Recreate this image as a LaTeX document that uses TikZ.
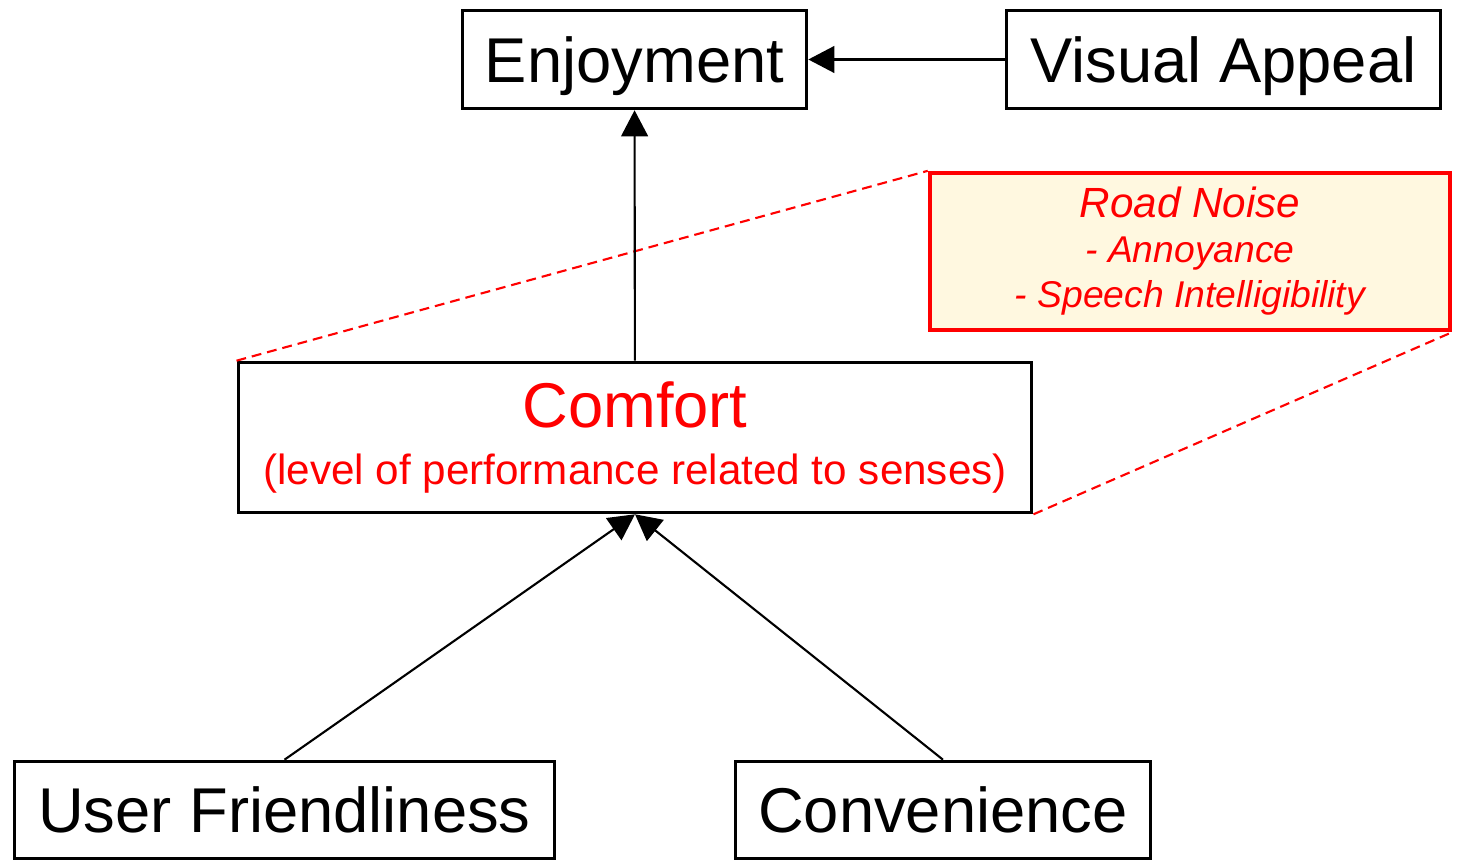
\documentclass[tikz,border=0pt]{standalone}
\usepackage{fontspec}
\setmainfont{Liberation Sans}
\usetikzlibrary{arrows.meta}
\definecolor{noisefill}{RGB}{255,248,224}
\begin{document}
\begin{tikzpicture}[x=0.01cm,y=-0.01cm,
  box/.style={draw,line width=1pt,inner sep=0pt},
  factor/.style={box,text height=13pt,text depth=0pt,font=\fontsize{18}{21}\selectfont},
  link/.style={line width=0.6pt,-{Triangle[length=7.4pt,width=7.6pt]}},
  zoomline/.style={red,line width=0.6pt,dash pattern=on 2.8pt off 1.7pt}]
\useasboundingbox (0,0) rectangle (1459,861);
\node[factor,minimum width=3.44cm,minimum height=0.98cm] (enjoy) at (634.5,59.5) {Enjoyment};
\node[factor,minimum width=4.34cm,minimum height=0.98cm] (visual) at (1223.5,59.5) {Visual Appeal};
\node[box,minimum width=7.93cm,minimum height=1.50cm,align=center,text=red,
  font=\fontsize{12}{16.2}\selectfont] (comfort) at (635,437.5)
  {{\fontsize{18}{16.2}\selectfont Comfort}\\(level of performance related to senses)};
\node[factor,minimum width=5.40cm,minimum height=0.97cm] (user) at (284.5,810) {User Friendliness};
\node[factor,minimum width=4.15cm,minimum height=0.97cm] (conv) at (943,810) {Convenience};
\node[draw=red,line width=1.2pt,fill=noisefill,inner sep=0pt,minimum width=5.20cm,minimum height=1.57cm,
  align=center,text=red,font=\itshape\fontsize{10.6}{12.8}\selectfont] (noise) at (1190,251.5)
  {{\fontsize{12}{12.8}\selectfont Road Noise}\\- Annoyance\\- Speech Intelligibility};
\draw[zoomline] (comfort.north west) -- (noise.north west);
\draw[zoomline] (comfort.south east) -- (noise.south east);
\draw[link] (visual) -- (enjoy);
\draw[link] (comfort) -- (enjoy);
\draw[link] (user.north) -- (comfort.south);
\draw[link] (conv.north) -- (comfort.south);
\end{tikzpicture}
\end{document}
